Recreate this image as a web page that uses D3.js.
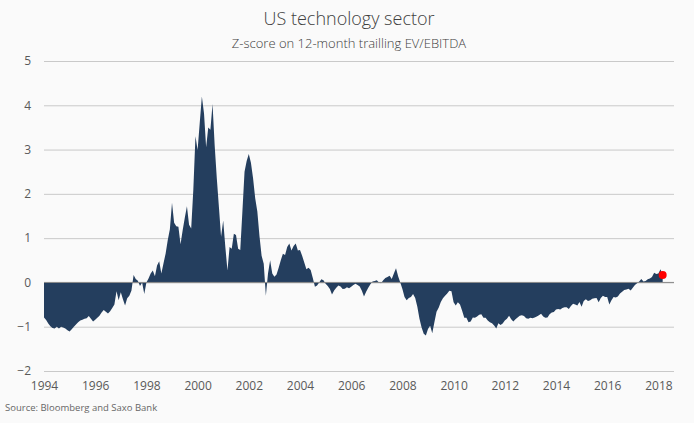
<!DOCTYPE html>
<html>
<head>
<meta charset="utf-8">
<script src="https://cdn.jsdelivr.net/npm/d3@7"></script>
<style>
  html, body { margin: 0; padding: 0; background: #fafafa; }
  svg { display: block; font-family: "Open Sans", "Noto Sans", sans-serif; }
</style>
</head>
<body>
<svg id="chart" width="694" height="423"></svg>
<script>
// Monthly z-scores, January 1994 to March 2018
const startYear = 1994;
const zscores = [
  -0.79, -0.85, -0.93, -0.99, -1.03, -1.04, -1.00, -1.04, -1.00, -1.02, -1.04, -1.08, // 1994
  -1.11, -1.06, -1.00, -0.95, -0.90, -0.86, -0.84, -0.82, -0.81, -0.76, -0.82, -0.88, // 1995
  -0.84, -0.80, -0.75, -0.68, -0.62, -0.66, -0.70, -0.65, -0.58, -0.50, -0.20, -0.40, // 1996
  -0.22, -0.38, -0.52, -0.36, -0.30, -0.18, 0.17, 0.08, 0.04, -0.08, 0.00, -0.26,     // 1997
  0.00, 0.09, 0.20, 0.27, 0.14, 0.38, 0.48, 0.20, 0.43, 0.65, 0.95, 1.20,             // 1998
  1.80, 1.35, 1.27, 1.26, 0.86, 1.18, 1.46, 1.72, 1.30, 1.22, 2.10, 3.30,             // 1999
  2.99, 3.60, 4.20, 3.82, 3.05, 3.50, 3.45, 4.03, 3.10, 2.35, 1.70, 1.03,             // 2000
  1.40, 0.80, 0.27, 0.80, 0.76, 1.10, 1.07, 0.76, 0.73, 1.60, 2.50, 2.74,             // 2001
  2.90, 2.70, 2.35, 1.90, 1.60, 1.05, 0.60, 0.42, -0.30, 0.20, 0.50, 0.20,            // 2002
  0.13, 0.18, 0.33, 0.50, 0.65, 0.62, 0.80, 0.88, 0.72, 0.82, 0.88, 0.72,             // 2003
  0.73, 0.60, 0.45, 0.30, 0.33, 0.28, 0.10, -0.10, -0.07, 0.00, 0.07, 0.05,           // 2004
  -0.03, -0.08, -0.15, -0.27, -0.18, -0.12, -0.07, -0.09, -0.15, -0.14, -0.11, -0.13, // 2005
  -0.10, -0.06, -0.03, -0.06, -0.09, -0.19, -0.32, -0.21, -0.12, -0.04, 0.02, 0.03,   // 2006
  0.05, 0.00, -0.02, 0.05, 0.10, 0.12, 0.15, 0.08, 0.20, 0.32, 0.14, 0.00,            // 2007
  -0.15, -0.33, -0.40, -0.35, -0.33, -0.26, -0.35, -0.55, -0.82, -1.02, -1.16, -1.20, // 2008
  -1.05, -0.98, -1.15, -0.90, -0.66, -0.57, -0.44, -0.36, -0.30, -0.25, -0.19, -0.20, // 2009
  -0.45, -0.52, -0.45, -0.50, -0.64, -0.80, -0.80, -0.90, -0.88, -0.79, -0.80, -0.77, // 2010
  -0.73, -0.72, -0.80, -0.80, -0.86, -0.90, -0.92, -0.97, -1.04, -0.92, -0.96, -0.93, // 2011
  -0.86, -0.82, -0.75, -0.83, -0.88, -0.83, -0.79, -0.75, -0.74, -0.76, -0.81, -0.82, // 2012
  -0.80, -0.81, -0.79, -0.77, -0.74, -0.71, -0.77, -0.80, -0.79, -0.72, -0.68, -0.67, // 2013
  -0.61, -0.60, -0.61, -0.58, -0.56, -0.56, -0.60, -0.53, -0.48, -0.50, -0.52, -0.44, // 2014
  -0.55, -0.42, -0.38, -0.42, -0.40, -0.37, -0.36, -0.35, -0.45, -0.35, -0.30, -0.33, // 2015
  -0.33, -0.50, -0.40, -0.33, -0.34, -0.32, -0.25, -0.21, -0.17, -0.16, -0.14, -0.18, // 2016
  -0.12, -0.06, -0.02, 0.02, 0.08, 0.02, 0.03, 0.07, 0.09, 0.12, 0.22, 0.19,          // 2017
  0.20, 0.30, 0.17                                                                    // 2018
];
const yTicks = [-2, -1, 0, 1, 2, 3, 4, 5];
const xTickYears = [1994, 1996, 1998, 2000, 2002, 2004, 2006, 2008, 2010, 2012, 2014, 2016, 2018];
const titleText = "US technology sector";
const subtitleText = "Z-score on 12-month trailling EV/EBITDA";
const sourceText = "Source: Bloomberg and Saxo Bank";

const data = zscores.map((v, i) => ({ t: startYear + i / 12, v }));

const svg = d3.select("#chart");
const x = d3.scaleLinear().domain([1994, 2018]).range([44, 658.4]);
const y = d3.scaleLinear().domain([-2, 5]).range([371, 61]);
const gridRight = 674;

// title
svg.append("text").attr("x", 349).attr("y", 25).attr("text-anchor", "middle")
  .attr("font-size", 18).attr("font-weight", 300).attr("fill", "#404040").text(titleText);
svg.append("text").attr("x", 349).attr("y", 48).attr("text-anchor", "middle")
  .attr("font-size", 13).attr("font-weight", 300).attr("fill", "#404040").text(subtitleText);

// y axis with gridlines
const yAxis = d3.axisLeft(y).tickValues(yTicks).tickSize(gridRight - 44).tickPadding(13)
  .tickFormat(d3.format("d"));
const gy = svg.append("g").attr("transform", `translate(${gridRight},0)`).call(yAxis);
gy.select(".domain").remove();
gy.selectAll(".tick line").attr("stroke", "#c9c9c9").attr("stroke-width", 1);
gy.selectAll(".tick text").attr("fill", "#595959").attr("font-size", 12)
  .attr("font-family", "'Open Sans', 'Noto Sans', sans-serif");

// area
const area = d3.area().x(d => x(d.t)).y0(y(0)).y1(d => y(d.v));
svg.append("path").datum(data).attr("d", area).attr("fill", "#243e5e");

// zero line
svg.append("line").attr("x1", 44).attr("x2", gridRight).attr("y1", y(0)).attr("y2", y(0))
  .attr("stroke", "#8a8a8a").attr("stroke-width", 1);

// last point marker
const last = data[data.length - 1];
svg.append("circle").attr("cx", x(last.t)).attr("cy", y(last.v)).attr("r", 4).attr("fill", "#ff0000");

// x axis labels
const xAxis = d3.axisBottom(x).tickValues(xTickYears).tickSize(0).tickPadding(10)
  .tickFormat(d3.format("d"));
const gx = svg.append("g").attr("transform", `translate(0,${y(-2)})`).call(xAxis);
gx.select(".domain").remove();
gx.selectAll(".tick text").attr("fill", "#595959").attr("font-size", 12)
  .attr("font-family", "'Open Sans', 'Noto Sans', sans-serif");

// source
svg.append("text").attr("x", 5).attr("y", 411).attr("font-size", 9.5).attr("fill", "#666")
  .text(sourceText);
</script>
</body>
</html>
